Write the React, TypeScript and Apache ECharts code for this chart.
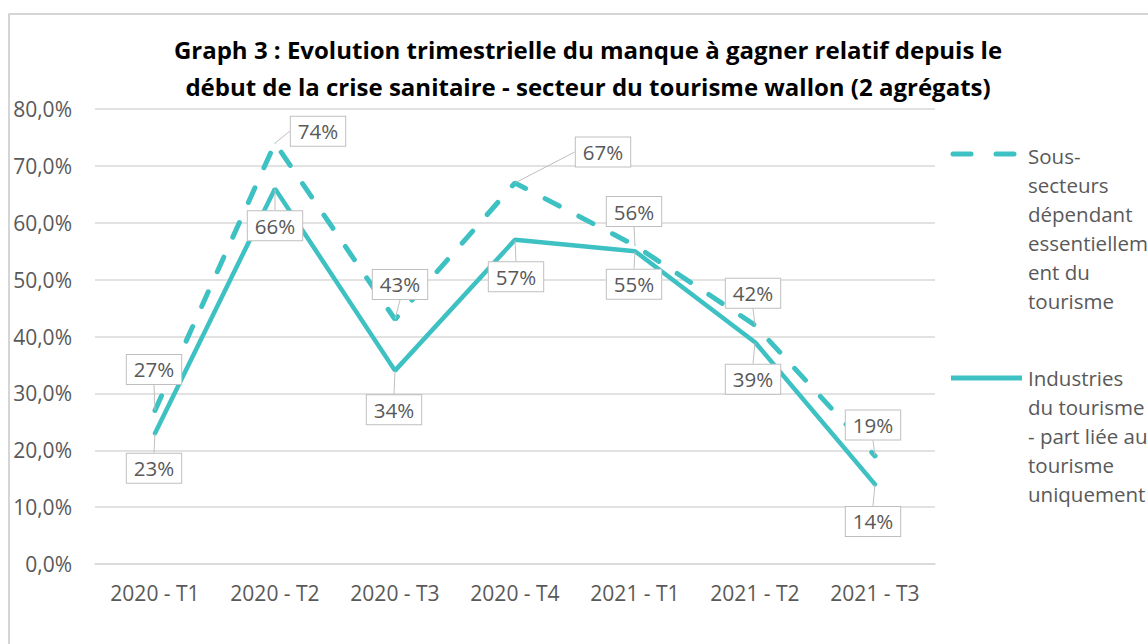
import React, { useEffect, useRef } from "react";
import * as echarts from "echarts";

const categories = ["2020 - T1", "2020 - T2", "2020 - T3", "2020 - T4", "2021 - T1", "2021 - T2", "2021 - T3"];
const sousSecteurs = [27, 74, 43, 67, 56, 42, 19];
const industries = [23, 66, 34, 57, 55, 39, 14];
const yTicks = { min: 0, max: 80, interval: 10 };

const titleText =
  "Graph 3 : Evolution trimestrielle du manque à gagner relatif depuis le\ndébut de la crise sanitaire - secteur du tourisme wallon (2 agrégats)";
const legendDashed = "Sous-\nsecteurs\ndépendant\nessentiellem\nent du\ntourisme";
const legendSolid = "Industries\ndu tourisme\n- part liée au\ntourisme\nuniquement";

// label offsets (layout only)
const labelOffsets: number[][][] = [
  [[-1, -41], [43, -12], [5, -35], [88, -31], [-1, -34], [-2, -32], [-2, -31]],
  [[-1, 35], [0, 37], [-1, 39], [1, 37], [-1, 33], [-2, 37], [-2, 37]],
];

const TEAL = "#3ec1c3";
const FONT = "'Open Sans', sans-serif";
const TXT = "#595959";

export default function App() {
  const ref = useRef<HTMLDivElement>(null);
  useEffect(() => {
    if (!ref.current) return;
    const chart = echarts.init(ref.current, undefined, { renderer: "svg" });
    const label = {
      show: true,
      position: "inside",
      formatter: (p: any) => Math.round(p.value) + "%",
      color: TXT,
      fontFamily: FONT,
      fontSize: 20.5,
      lineHeight: 21,
      backgroundColor: "#ffffff",
      borderColor: "#bfbfbf",
      borderWidth: 1,
      padding: [4, 7],
    };
    const labelLine = { show: true, lineStyle: { color: "#bfbfbf", width: 1 } };
    chart.setOption({
      animation: false,
      textStyle: { fontFamily: FONT },
      grid: { left: 95, right: 213, top: 109, bottom: 80 },
      xAxis: {
        type: "category",
        data: categories,
        boundaryGap: true,
        axisLine: { lineStyle: { color: "#d9d9d9", width: 1.5 } },
        axisTick: { show: false },
        axisLabel: { color: TXT, fontSize: 21, fontFamily: FONT, margin: 18 },
      },
      yAxis: {
        type: "value",
        min: yTicks.min,
        max: yTicks.max,
        interval: yTicks.interval,
        axisLine: { show: false },
        axisTick: { show: false },
        splitLine: { lineStyle: { color: "#d9d9d9", width: 1.5 } },
        axisLabel: {
          color: TXT,
          fontSize: 21,
          fontFamily: FONT,
          margin: 23,
          formatter: (v: number) => v.toFixed(1).replace(".", ",") + "%",
        },
      },
      series: [
        {
          name: "Sous-secteurs dépendant essentiellement du tourisme",
          type: "line",
          data: sousSecteurs,
          symbol: "circle",
          symbolSize: 1,
          itemStyle: { color: TEAL },
          lineStyle: { color: TEAL, width: 5, type: [16, 22], cap: "round" },
          label,
          labelLine,
          labelLayout: (p: any) => {
            const o = labelOffsets[0][p.dataIndex];
            return { dx: o[0], dy: o[1] };
          },
          z: 3,
        },
        {
          name: "Industries du tourisme - part liée au tourisme uniquement",
          type: "line",
          data: industries,
          symbol: "circle",
          symbolSize: 1,
          itemStyle: { color: TEAL },
          lineStyle: { color: TEAL, width: 4.5, cap: "round" },
          label,
          labelLine,
          labelLayout: (p: any) => {
            const o = labelOffsets[1][p.dataIndex];
            return { dx: o[0], dy: o[1] };
          },
          z: 2,
        },
      ],
      graphic: [
        {
          type: "rect",
          shape: { x: 9, y: 14, width: 1300, height: 800 },
          style: { fill: "none", stroke: "#c8c8c8", lineWidth: 1.5 },
          silent: true,
          z: -10,
        },
        {
          type: "text",
          x: 588,
          y: 31,
          style: {
            text: titleText,
            fill: "#000000",
            font: `bold 24px ${FONT}`,
            lineHeight: 37,
            align: "center",
            verticalAlign: "top",
          },
        },
        {
          type: "line",
          shape: { x1: 953, y1: 154, x2: 971, y2: 154 },
          style: { stroke: TEAL, lineWidth: 5, lineCap: "round" },
        },
        {
          type: "line",
          shape: { x1: 996, y1: 154, x2: 1014, y2: 154 },
          style: { stroke: TEAL, lineWidth: 5, lineCap: "round" },
        },
        {
          type: "line",
          shape: { x1: 951, y1: 378, x2: 1022, y2: 378 },
          style: { stroke: TEAL, lineWidth: 5 },
        },
        {
          type: "text",
          x: 1028,
          y: 141,
          style: { text: legendDashed, fill: TXT, font: `20.5px ${FONT}`, lineHeight: 29, verticalAlign: "top" },
        },
        {
          type: "text",
          x: 1028,
          y: 363,
          style: { text: legendSolid, fill: TXT, font: `20.5px ${FONT}`, lineHeight: 29, verticalAlign: "top" },
        },
      ],
    });
    return () => chart.dispose();
  }, []);
  return (
    <div
      ref={ref}
      style={{ position: "fixed", left: 0, top: 0, width: 1148, height: 644, background: "#fff" }}
    />
  );
}
